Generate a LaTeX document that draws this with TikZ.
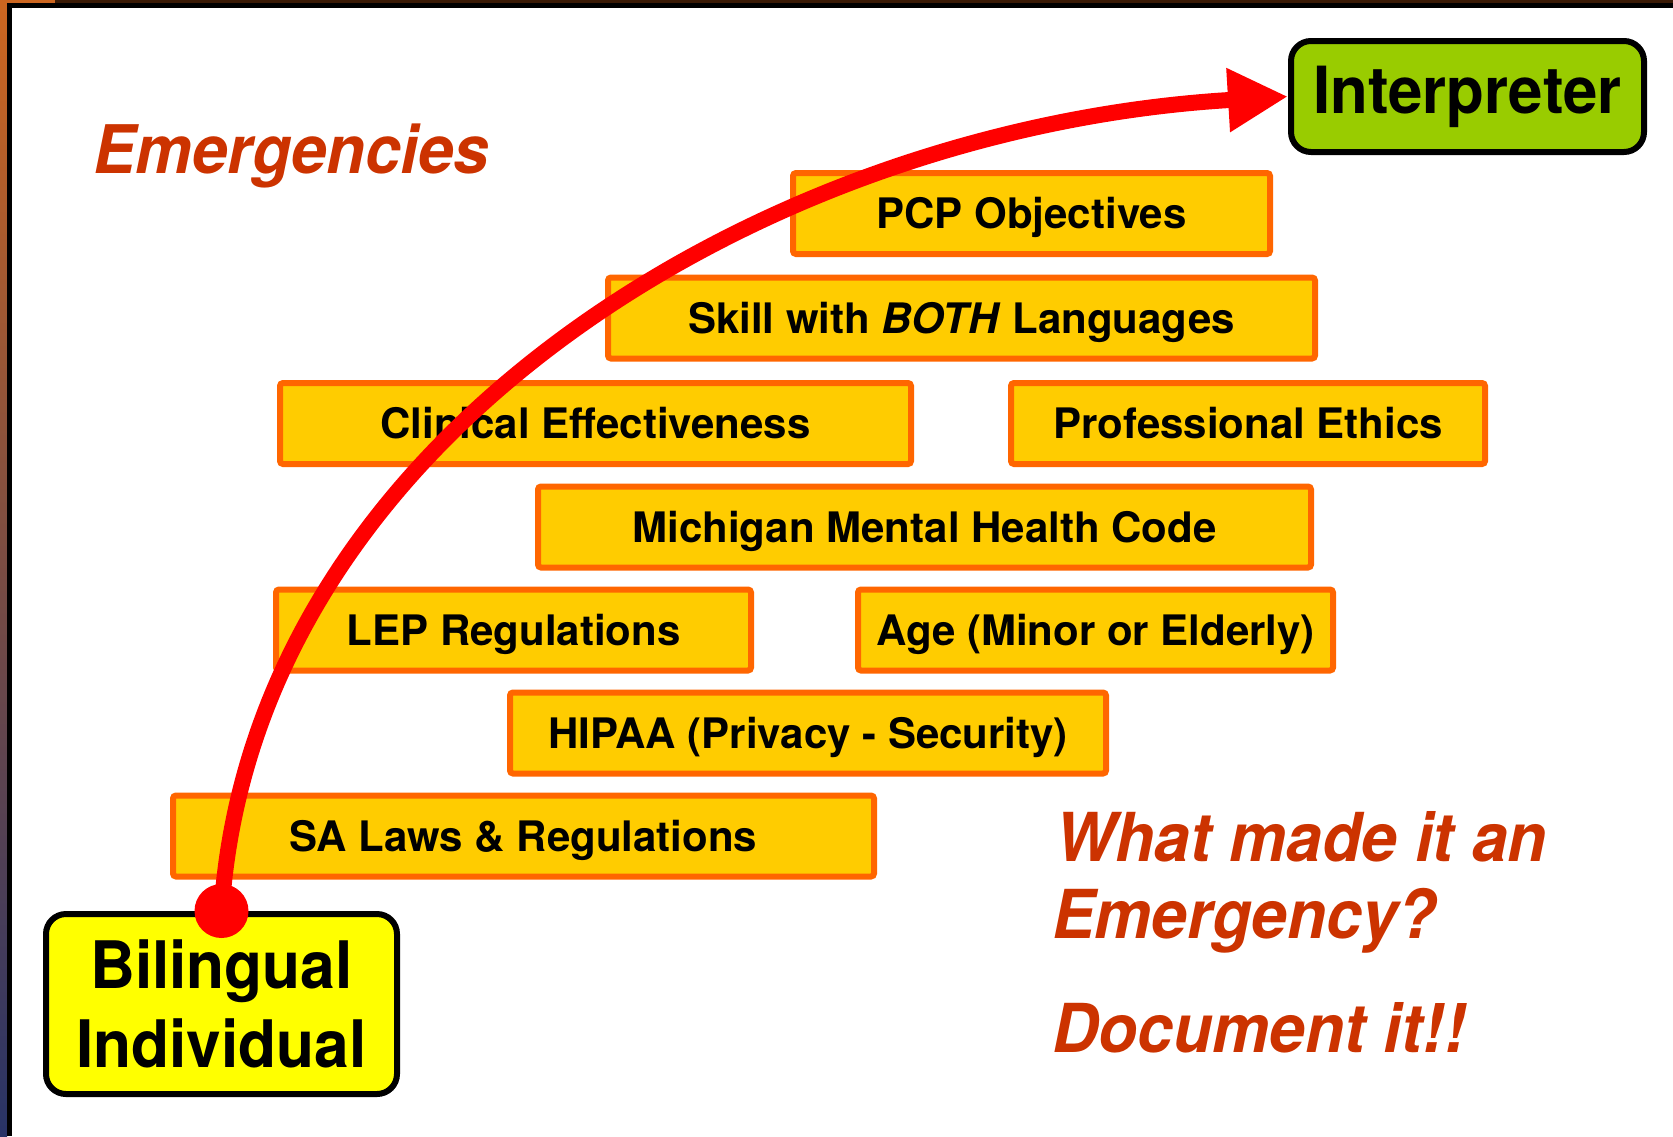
\documentclass[tikz,border=0pt]{standalone}
\usepackage{fontspec}
\setmainfont{TeX Gyre Heros}[FakeStretch=0.95]
\newfontfamily\barfont{TeX Gyre Heros}
\usetikzlibrary{arrows.meta,positioning}
\definecolor{barfill}{HTML}{FFCC00}
\definecolor{barline}{HTML}{FF6600}
\definecolor{notered}{HTML}{CC3300}
\definecolor{interpgreen}{HTML}{99CC00}
\definecolor{biyellow}{HTML}{FFFF00}
\definecolor{edgeorange}{HTML}{CC6620}
\definecolor{edgeplum}{HTML}{6A3F58}
\definecolor{edgeblue}{HTML}{283366}
\definecolor{edgebrown}{HTML}{3A1A05}

\begin{document}
\begin{tikzpicture}
    [x=1pt, y=-1pt,
    bar/.style={draw=barline, fill=barfill, line width=6pt, rounded corners=3pt,
    minimum height=81pt, inner sep=0pt, text height=30pt, text depth=0pt,
    font=\barfont\fontsize{42}{50}\selectfont\bfseries},
    goal/.style={draw=black, line width=6pt, rounded corners=20pt, inner sep=0pt,
    align=center},
    note/.style={text=notered, anchor=base west, inner sep=0pt,
    font=\fontsize{67.5}{80}\selectfont\bfseries\itshape}]

  \useasboundingbox (0,0) rectangle (1673,1136);
  \fill[white] (0,0) rectangle (1673,1136);
  \shade[top color=edgeorange, middle color=edgeplum, bottom color=edgeblue]
    (0,0) rectangle (7,1136);
  \fill[edgebrown] (55,0) rectangle (1673,3);
  \fill[edgeorange] (0,0) rectangle (55,3);
  \fill[black] (7,3) rectangle (12,1136);
  \fill[black] (7,3) rectangle (1673,8);

  \node[bar, minimum width=477pt] (pcp) at (1031.5,213.5) {PCP Objectives};
  \node[bar, minimum width=707pt] (skill) at (961.5,318) {Skill with \textit{BOTH} Languages};
  \node[bar, minimum width=631pt] (clin) at (595.5,423.5) {Clinical Effectiveness};
  \node[bar, minimum width=474pt, right=94pt of clin] (ethics) {Professional Ethics};
  \node[bar, minimum width=773pt] (mmhc) at (924.5,527) {Michigan Mental Health Code};
  \node[bar, minimum width=475pt] (lep) at (513.5,630) {LEP Regulations};
  \node[bar, minimum width=475pt, right=101pt of lep] (age) {Age (Minor or Elderly)};
  \node[bar, minimum width=596pt] (hipaa) at (808,733) {HIPAA (Privacy - Security)};
  \node[bar, minimum width=701pt] (sa) at (523.5,836) {SA Laws \& Regulations};

  \node[goal, fill=interpgreen, minimum width=353pt, minimum height=111pt,
    font=\fontsize{65}{78}\selectfont\bfseries] (interp) at (1467.5,96.5) {Interpreter};
  \node[goal, fill=biyellow, minimum width=351pt, minimum height=180pt,
    font=\fontsize{65.5}{79}\selectfont\bfseries] (bil) at (221.5,1004) {Bilingual\\Individual};

  \node[note, font=\fontsize{67}{80}\selectfont\bfseries\itshape] (emerg) at (93,173) {Emergencies};
  \node[note] (what) at (1055,861) {What made it an};
  \node[note] (emergq) at (1052,938) {Emergency?};
  \node[note] (docit) at (1052,1052) {Document it!!};

  \draw[red, line width=16pt, -{Triangle[length=60pt,width=60pt]}]
    (bil.north) .. controls (252,440) and (760,128) .. (interp.west);
  \fill[red] (bil.north) circle (27pt);

\end{tikzpicture}
\end{document}
